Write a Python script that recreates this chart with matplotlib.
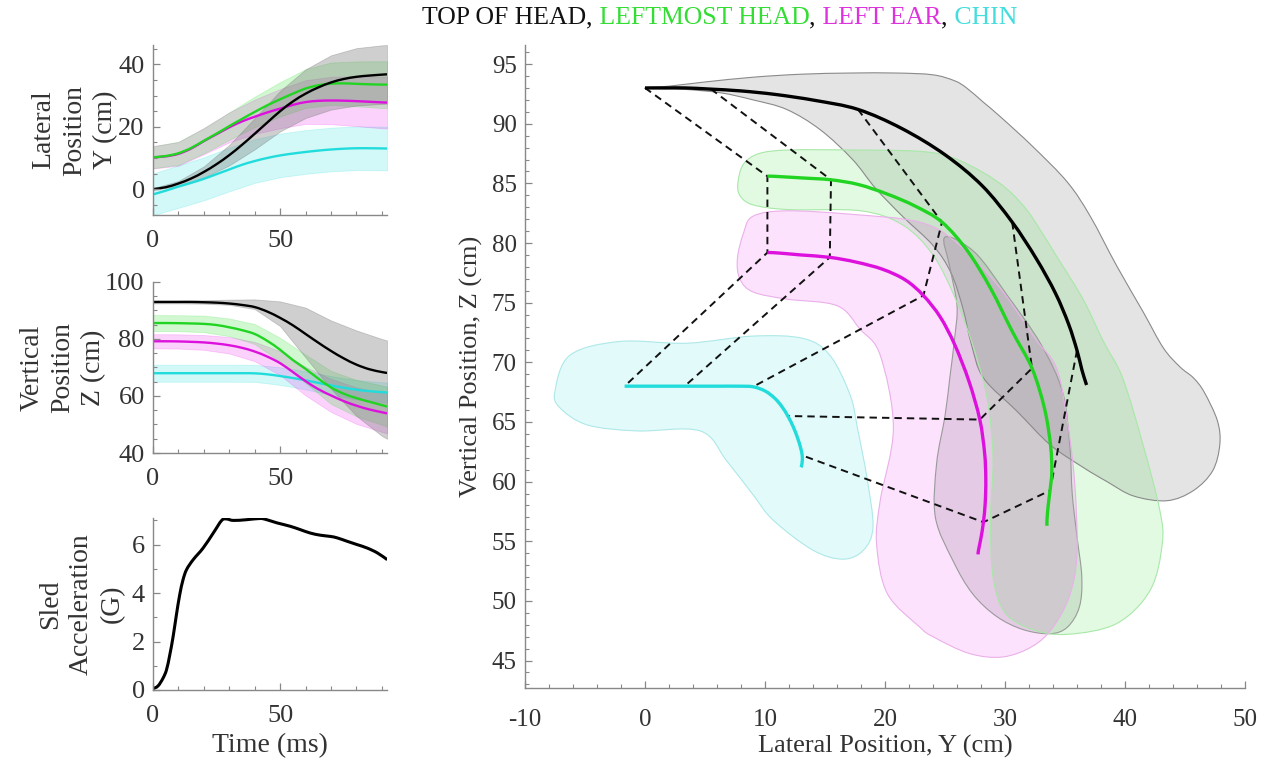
import numpy as np
import matplotlib
matplotlib.use('Agg')
import matplotlib.pyplot as plt
from matplotlib.patches import PathPatch
from matplotlib.path import Path
from matplotlib.ticker import MultipleLocator

# ---------------- data ----------------
t = [0, 5, 10, 15, 20, 25, 30, 35, 40, 45, 50, 55, 60, 65, 70, 75, 80, 85, 90, 92]

top_y = [0, 0.6, 1.8, 3.4, 5.5, 8.0, 10.9, 14.2, 17.75, 21.4, 25.0, 28.1, 30.6, 32.6, 34.2, 35.3, 36.0, 36.4, 36.7, 36.8]
top_z = [93.0, 93.0, 93.0, 93.0, 92.9, 92.75, 92.45, 91.95, 91.2, 89.6, 87.4, 84.8, 81.75, 78.7, 75.8, 73.2, 71.0, 69.4, 68.4, 68.1]
lmh_y = [10.2, 10.6, 11.5, 13.2, 15.5, 17.8, 20.2, 22.5, 24.75, 26.9, 28.8, 30.6, 32.25, 33.3, 33.8, 33.9, 33.75, 33.6, 33.5, 33.5]
lmh_z = [85.6, 85.6, 85.55, 85.45, 85.3, 84.9, 84.1, 83.1, 81.75, 79.3, 76.2, 72.6, 69.5, 66.1, 63.0, 60.8, 59.25, 58.0, 56.8, 56.3]
ear_y = [10.2, 10.5, 11.3, 13.0, 15.4, 17.6, 19.8, 21.7, 23.2, 24.6, 25.8, 27.0, 27.9, 28.3, 28.4, 28.35, 28.2, 28.0, 27.8, 27.75]
ear_z = [79.2, 79.2, 79.15, 79.0, 78.8, 78.4, 77.8, 76.9, 75.6, 73.8, 71.5, 68.4, 65.2, 62.4, 60.2, 58.2, 56.6, 55.3, 54.3, 53.9]
chin_y = [-1.7, -0.5, 0.8, 2.0, 3.3, 4.8, 6.3, 7.8, 9.0, 10.0, 10.8, 11.4, 11.9, 12.35, 12.7, 12.95, 13.1, 13.1, 13.05, 13.0]
chin_z = [68.0, 68.0, 68.0, 68.0, 68.0, 68.0, 68.0, 68.0, 67.95, 67.6, 67.0, 66.3, 65.5, 64.6, 63.7, 62.9, 62.2, 61.7, 61.35, 61.2]

# corridor bounds for the time histories
tb = [0, 10, 20, 30, 40, 50, 60, 70, 80, 90, 92]
top_y_lo = [-0.3, 1.0, 3.7, 7.6, 12.75, 18.5, 22.8, 25.5, 26.8, 27.3, 27.4]
top_y_hi = [0.3, 2.6, 7.3, 14.2, 22.75, 31.5, 38.4, 42.9, 45.2, 46.1, 46.2]
lmh_y_lo = [6.7, 7.8, 11.5, 15.8, 19.85, 23.3, 26.05, 27.0, 26.55, 26.0, 26.0]
lmh_y_hi = [13.7, 15.2, 19.5, 24.6, 29.65, 34.3, 38.45, 40.6, 40.95, 41.0, 41.0]
ear_y_lo = [6.6, 7.5, 11.2, 15.0, 17.7, 19.5, 20.9, 20.8, 20.2, 19.5, 19.45]
ear_y_hi = [13.8, 15.1, 19.6, 24.6, 28.7, 32.1, 34.9, 36.0, 36.2, 36.1, 36.05]
chin_y_lo = [-8.4, -6.0, -3.6, -0.7, 2.0, 3.8, 4.9, 5.7, 6.1, 6.05, 6.0]
chin_y_hi = [5.0, 7.6, 10.2, 13.3, 16.0, 17.8, 18.9, 19.7, 20.1, 20.05, 20.0]

top_z_lo = [92.5, 92.5, 92.4, 92.0, 90.5, 84.5, 73.5, 62.5, 53.0, 46.0, 45.0]
top_z_hi = [93.5, 93.5, 93.6, 93.8, 93.9, 93.2, 91.0, 86.5, 83.0, 80.0, 79.5]
lmh_z_lo = [82.8, 82.75, 82.4, 81.0, 78.25, 72.0, 64.5, 57.2, 52.85, 49.9, 49.3]
lmh_z_hi = [88.4, 88.35, 88.2, 87.2, 85.25, 80.4, 74.5, 68.8, 65.65, 63.7, 63.3]
ear_z_lo = [76.7, 76.65, 76.2, 74.9, 72.2, 67.3, 60.2, 54.4, 50.2, 47.4, 46.9]
ear_z_hi = [81.7, 81.65, 81.4, 80.7, 79.0, 75.7, 70.2, 66.0, 63.0, 61.2, 60.9]
chin_z_lo = [65.0, 65.0, 65.0, 65.0, 64.95, 63.9, 62.3, 60.4, 58.8, 57.85, 57.7]
chin_z_hi = [71.0, 71.0, 71.0, 71.0, 70.95, 70.1, 68.7, 67.0, 65.6, 64.85, 64.7]

# sled acceleration
t_acc = [0, 2.0, 3.9, 5.3, 6.6, 7.9, 9.2, 10.5, 11.8, 13.2, 15.8, 19.7, 23.7, 27.0, 28.9, 31.6,
         36.8, 42.1, 44.7, 48.7, 53.9, 57.9, 61.8, 65.8, 69.7, 72.4, 76.3, 80.3, 84.2, 88.2, 92.1]
acc = [0.05, 0.17, 0.48, 0.83, 1.45, 2.2, 3.1, 3.93, 4.55, 4.97, 5.38, 5.86, 6.48, 7.0, 7.06, 7.0,
       7.03, 7.08, 7.03, 6.9, 6.76, 6.62, 6.48, 6.39, 6.34, 6.28, 6.14, 6.0, 5.86, 5.66, 5.38]

# 2-D corridor outlines (Y, Z) in the main view
top_reg_y = [0, 2, 5, 9, 13, 17.1, 21, 24, 25.8, 26.8, 28.2, 29.6, 32.3, 35.2, 37.1, 39.3, 41.5, 43.2, 44.6, 45.7,
             46.6, 47.7, 47.9, 47.3, 45.7, 43.5, 40.7, 38.5, 36.5, 33.75, 31, 28.2, 27.2, 26.5, 25.5, 24, 21.5,
             19.2, 17.3, 14.6, 11.8, 9, 6.25, 3]
top_reg_z = [93.0, 93.15, 93.5, 93.9, 94.15, 94.25, 94.25, 94.1, 93.6, 93.0, 91.8, 90.6, 88.1, 85.1, 82.25, 78.1,
             74.25, 71.2, 69.6, 68.7, 67.5, 65.1, 63.1, 60.9, 59.25, 58.4, 58.8, 60.0, 61.2, 63.1, 65.9, 68.7,
             71.5, 74.5, 77.5, 79.8, 82.2, 84.6, 87.0, 89.5, 91.2, 92.0, 92.6, 92.9]
top_lobe_y = [25, 27.5, 30.2, 33, 34.8, 35.4, 35.6, 36.0, 36.4, 36.2, 35.2, 33.75, 31.5, 29.3, 27.3, 25.7, 24.2,
              24.3, 25.0, 25.4, 25.8, 26.0, 25.4]
top_lobe_z = [80.5, 79.2, 75.6, 71.5, 67.5, 63, 59, 55.4, 52, 49.5, 47.8, 47.25, 47.6, 48.7, 50.6, 53.3, 57,
              61.5, 65.5, 68.7, 72, 74.75, 78]
lmh_reg_y = [7.75, 8.2, 9.5, 12, 17.1, 22.7, 25.5, 28.2, 30.2, 31.8, 33, 34.3, 36.5, 38.2, 39.8, 41.5, 42.9,
             43.1, 42.1, 39.3, 35.2, 32.3, 30, 29, 28.8, 29, 28.5, 27.3, 25.8, 24, 21.5, 18, 12, 9, 7.9]
lmh_reg_z = [85.1, 86.6, 87.5, 87.8, 87.8, 87.7, 87.2, 85.9, 84.5, 82.8, 81, 78.9, 75.3, 71.75, 68.7, 63.1,
             57.6, 54.75, 50.9, 48.1, 47.2, 47.6, 49, 52, 57, 62, 67, 71.5, 75.5, 79, 81.5, 82.7, 82.8, 83.2, 84]
ear_reg_y = [9, 11.8, 17.3, 22.9, 26, 29.6, 32.5, 34.3, 35.2, 35.8, 36.0, 35.4, 34.0, 32.3, 29.8, 27, 24, 22.9,
             20.2, 19.3, 19.6, 20.7, 19.6, 17.9, 16, 11.8, 9, 7.9, 7.7, 8.2]
ear_reg_z = [82.25, 82.7, 82.4, 81.75, 80, 76.2, 72, 69.5, 65, 60, 54, 50.5, 47.8, 46.2, 45.3, 45.6, 47, 47.8,
             50.6, 54.75, 58.4, 64.5, 70.6, 72.8, 74.75, 75.3, 75.9, 77, 78.7, 80.8]
chin_reg_y = [-7.5, -6.25, -2.1, 3.5, 9, 13.2, 15.4, 17.1, 17.7, 18.5, 19, 18.2, 16.5, 14, 10.7, 9, 6.8, 4.6,
              -0.7, -4.8, -7.1]
chin_reg_z = [67.6, 70.6, 71.75, 71.6, 72.2, 72, 70.6, 67.25, 64.5, 60.3, 56.2, 54.25, 53.5, 54.25, 56.75,
              58.9, 61.75, 64.25, 64.25, 64.75, 66.2]

link_times = [0, 20, 40, 60, 80]
title_parts = ["TOP OF HEAD", ",", " LEFTMOST HEAD", ",", " LEFT EAR", ",", " CHIN"]

# ---------------- style ----------------
plt.rcParams['font.family'] = ['Liberation Serif', 'DejaVu Serif']
plt.rcParams['axes.unicode_minus'] = False

C_TOP = '#000000'
C_LMH = '#22d422'
C_EAR = '#dd11dd'
C_CHIN = '#22dcdc'
title_colors = ['#111111', '#111111', '#33dd33', '#111111', '#dd33dd', '#111111', '#44dddd']
TXT = '#333333'

W, H = 1270, 761
fig = plt.figure(figsize=(W / 100, H / 100), dpi=100)

ax1 = fig.add_axes([153 / W, 1 - 215 / H, 234 / W, 170 / H])
ax2 = fig.add_axes([153 / W, 1 - 453 / H, 234 / W, 171 / H])
ax3 = fig.add_axes([153 / W, 1 - 690 / H, 234 / W, 172 / H])
axm = fig.add_axes([525 / W, 1 - 688 / H, 720 / W, 643 / H])


def style(ax, fs, xpad, ypad):
    for s in ['top', 'right']:
        ax.spines[s].set_visible(False)
    for s in ['left', 'bottom']:
        ax.spines[s].set_color('#888888')
        ax.spines[s].set_linewidth(1.0)
    ax.tick_params(which='both', direction='in', color='#888888', labelcolor=TXT, labelsize=fs)
    ax.tick_params(which='major', length=5, width=0.9)
    ax.tick_params(which='minor', length=3, width=0.8)
    ax.tick_params(axis='x', which='major', pad=xpad)
    ax.tick_params(axis='y', which='major', pad=ypad)


def smooth_path(xs, ys, closed):
    """Smooth curve through the given points (Catmull-Rom drawn as cubic Bezier segments)."""
    P = np.column_stack([xs, ys]).astype(float)
    n = len(P)
    verts = [P[0]]
    codes = [Path.MOVETO]
    nseg = n if closed else n - 1
    for i in range(nseg):
        p0 = P[(i - 1) % n] if (closed or i > 0) else P[i]
        p1 = P[i]
        p2 = P[(i + 1) % n]
        p3 = P[(i + 2) % n] if (closed or i + 2 < n) else P[i + 1]
        verts += [p1 + (p2 - p0) / 6.0, p2 - (p3 - p1) / 6.0, p2]
        codes += [Path.CURVE4] * 3
    if closed:
        verts.append(P[0])
        codes.append(Path.CLOSEPOLY)
    return Path(np.array(verts), codes)


series = [
    (top_y, top_z, top_y_lo, top_y_hi, top_z_lo, top_z_hi, C_TOP, '#777777', 0.35),
    (lmh_y, lmh_z, lmh_y_lo, lmh_y_hi, lmh_z_lo, lmh_z_hi, C_LMH, '#22dd22', 0.2),
    (ear_y, ear_z, ear_y_lo, ear_y_hi, ear_z_lo, ear_z_hi, C_EAR, '#ee22ee', 0.2),
    (chin_y, chin_z, chin_y_lo, chin_y_hi, chin_z_lo, chin_z_hi, C_CHIN, '#22dddd', 0.2),
]

# --- time histories ---
for (yy, zz, ylo, yhi, zlo, zhi, c, fc, a) in series[::-1]:
    ax1.fill_between(tb, ylo, yhi, facecolor=fc, alpha=a, edgecolor=fc, linewidth=0.6)
    ax2.fill_between(tb, zlo, zhi, facecolor=fc, alpha=a, edgecolor=fc, linewidth=0.6)
for (yy, zz, ylo, yhi, zlo, zhi, c, fc, a) in series[::-1]:
    ax1.add_patch(PathPatch(smooth_path(t, yy, False), fill=False, edgecolor=c, lw=1.7))
    ax2.add_patch(PathPatch(smooth_path(t, zz, False), fill=False, edgecolor=c, lw=1.7))

lab_kw = dict(fontsize=20, color=TXT, linespacing=1.3)

ax1.set_xlim(0, 92)
ax1.set_ylim(-8.3, 46.2)
ax1.set_xticks([0, 50])
ax1.set_yticks([0, 20, 40])
ax1.xaxis.set_minor_locator(MultipleLocator(10))
ax1.yaxis.set_minor_locator(MultipleLocator(5))
style(ax1, 19, 11, 6)
ax1.set_ylabel("Lateral\nPosition\nY (cm)", **lab_kw)
ax1.yaxis.set_label_coords(-0.15, 0.5)

ax2.set_xlim(0, 92)
ax2.set_ylim(40, 100)
ax2.set_xticks([0, 50])
ax2.set_yticks([40, 60, 80, 100])
ax2.xaxis.set_minor_locator(MultipleLocator(10))
ax2.yaxis.set_minor_locator(MultipleLocator(5))
style(ax2, 19, 11, 6)
ax2.set_ylabel("Vertical\nPosition\nZ (cm)", **lab_kw)
ax2.yaxis.set_label_coords(-0.2, 0.5)

ax3.add_patch(PathPatch(smooth_path(t_acc, acc, False), fill=False, edgecolor='black', lw=2.2))
ax3.set_xlim(0, 92)
ax3.set_ylim(0, 7.1)
ax3.set_xticks([0, 50])
ax3.set_yticks([0, 2, 4, 6])
ax3.xaxis.set_minor_locator(MultipleLocator(10))
ax3.yaxis.set_minor_locator(MultipleLocator(1))
style(ax3, 19, 11, 6)
ax3.set_ylabel("Sled\nAcceleration\n(G)", **lab_kw)
ax3.yaxis.set_label_coords(-0.12, 0.5)
ax3.set_xlabel("Time (ms)", fontsize=20, color=TXT)
ax3.xaxis.set_label_coords(0.5, -0.25)

# --- main trajectory view ---
regions = [
    (top_reg_y, top_reg_z, '#888888', 0.22, '#8a8a8a'),
    (top_lobe_y, top_lobe_z, '#888888', 0.22, '#9a9a9a'),
    (lmh_reg_y, lmh_reg_z, '#22dd22', 0.13, '#a8e8a8'),
    (ear_reg_y, ear_reg_z, '#ee22ee', 0.13, '#eab0ea'),
    (chin_reg_y, chin_reg_z, '#22dddd', 0.13, '#aee8e8'),
]
for ry, rz, fc, a, ec in regions:
    p = smooth_path(ry, rz, True)
    axm.add_patch(PathPatch(p, facecolor=fc, alpha=a, edgecolor='none', zorder=1))
    axm.add_patch(PathPatch(p, facecolor='none', edgecolor=ec, lw=0.8, zorder=1.1))

t_arr = np.array(t)
chains = [(top_y, top_z), (lmh_y, lmh_z), (ear_y, ear_z), (chin_y, chin_z)]
for tl in link_times:
    i = int(np.where(t_arr == tl)[0][0])
    ly = [c[0][i] for c in chains]
    lz = [c[1][i] for c in chains]
    axm.plot(ly, lz, color='#111111', lw=1.4, dashes=(3.8, 2.6), zorder=3)

for (yy, zz, c) in [(chin_y, chin_z, C_CHIN), (ear_y, ear_z, C_EAR), (lmh_y, lmh_z, C_LMH), (top_y, top_z, C_TOP)]:
    axm.add_patch(PathPatch(smooth_path(yy, zz, False), fill=False, edgecolor=c, lw=2.4,
                            capstyle='butt', joinstyle='round', zorder=4))

axm.set_xlim(-10, 50)
axm.set_ylim(42.7, 96.6)
axm.set_xticks(np.arange(-10, 51, 10))
axm.set_yticks(np.arange(45, 96, 5))
axm.xaxis.set_minor_locator(MultipleLocator(2))
axm.yaxis.set_minor_locator(MultipleLocator(1))
style(axm, 18, 15, 6)
axm.set_xlabel("Lateral Position, Y (cm)", fontsize=19, color=TXT)
axm.xaxis.set_label_coords(0.5, -0.073)
axm.set_ylabel("Vertical Position, Z (cm)", fontsize=19, color=TXT)
axm.yaxis.set_label_coords(-0.058, 0.5)

# --- multi-coloured title ---
fig.canvas.draw()
renderer = fig.canvas.get_renderer()
x = 422 / W
for s, c in zip(title_parts, title_colors):
    txt = fig.text(x, 1 - 18 / H, s, color=c, fontsize=18.5, ha='left', va='center')
    bb = txt.get_window_extent(renderer=renderer)
    x += bb.width / fig.bbox.width

fig.savefig('out.png', dpi=100)
